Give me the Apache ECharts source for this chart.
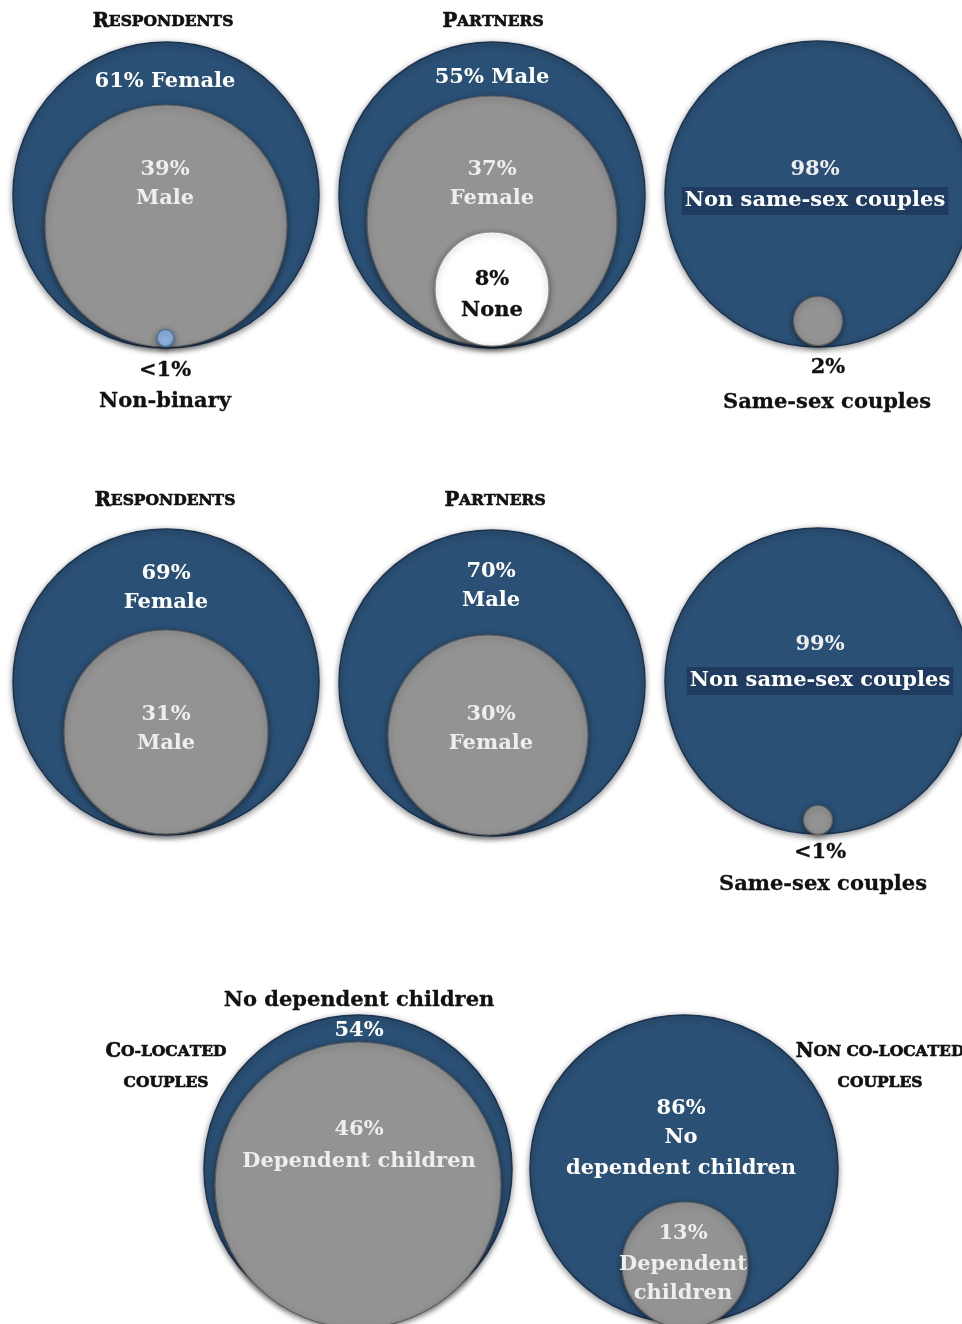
<!DOCTYPE html>
<html><head><meta charset="utf-8">
<script src="https://cdn.jsdelivr.net/npm/echarts@6/dist/echarts.min.js"></script>
<style>html,body{margin:0;padding:0;background:#fff}#c{width:962px;height:1324px}</style>
</head><body><div id="c"></div>
<script>
// ---- data ----
const panelTitles = ['Respondents', 'Partners', 'Respondents', 'Partners'];
const row1RespLabels = ['Female', 'Male', 'Non-binary'];
const row1RespValues = ['61%', '39%', '<1%'];
const row1PartLabels = ['Male', 'Female', 'None'];
const row1PartValues = ['55%', '37%', '8%'];
const row1CoupleLabels = ['Non same-sex couples', 'Same-sex couples'];
const row1CoupleValues = ['98%', '2%'];
const row2RespLabels = ['Female', 'Male'];
const row2RespValues = ['69%', '31%'];
const row2PartLabels = ['Male', 'Female'];
const row2PartValues = ['70%', '30%'];
const row2CoupleLabels = ['Non same-sex couples', 'Same-sex couples'];
const row2CoupleValues = ['99%', '<1%'];
const groupTitles = ['Co-located', 'couples', 'Non co-located', 'couples'];
const coLocLabels = ['No dependent children', 'Dependent children'];
const coLocValues = ['54%', '46%'];
const nonCoLabels = ['No', 'dependent children', 'Dependent', 'children'];
const nonCoValues = ['86%', '13%'];

// ---- layout (positions in axis units; kind -> style) ----
// [cx, cy, r, kind]  kind: 0 blue, 1 grey, 2 light blue, 3 white
const circles = [
  [166, 195, 153, 0], [166, 226, 121, 1], [165.5, 338, 8.5, 2],
  [492, 195, 153, 0], [492, 221, 125, 1], [492, 289, 57, 3],
  [818, 194, 153, 0], [818, 321, 24.5, 1],
  [166, 682, 153, 0], [166, 732, 102, 1],
  [492, 683, 153, 0], [488, 735, 100, 1],
  [818, 681, 153, 0], [818, 820, 14.5, 1],
  [358, 1169, 154, 0], [358, 1185, 143, 1],
  [684, 1169, 154, 0], [685, 1265, 63, 1]
];
const circleStyles = [
  { fill: '#2b5075', stroke: '#1b3350', lineWidth: 1.5 },
  { fill: '#939393', stroke: '#5e5e5e', lineWidth: 1.2 },
  { fill: '#8fb3df', stroke: '#4d74a6', lineWidth: 1.5 },
  { fill: '#ffffff', stroke: '#8a8a8a', lineWidth: 1.2 }
];

function sc(phrase) { // small caps rich text: original capitals large, lowercase as small capitals
  let out = '';
  for (const ch of phrase) {
    if (ch >= 'A' && ch <= 'Z') out += '{a|' + ch + '}';
    else out += '{b|' + ch.toUpperCase() + '}';
  }
  return out;
}
// [x, y, text, kind]  kind: 'w' white, 'g' light on grey, 'k' black, 'box' white w/ box, 'sc' small caps
const texts = [
  [163, 20, sc(panelTitles[0]), 'sc'],
  [165, 80, row1RespValues[0] + ' ' + row1RespLabels[0], 'w'],
  [165, 168, row1RespValues[1], 'g'], [165, 197, row1RespLabels[1], 'g'],
  [165, 369, row1RespValues[2], 'k'], [165, 400, row1RespLabels[2], 'k'],
  [493, 20, sc(panelTitles[1]), 'sc'],
  [492, 76, row1PartValues[0] + ' ' + row1PartLabels[0], 'w'],
  [492, 168, row1PartValues[1], 'g'], [492, 197, row1PartLabels[1], 'g'],
  [492, 278, row1PartValues[2], 'k'], [492, 309, row1PartLabels[2], 'k'],
  [815, 168, row1CoupleValues[0], 'g'], [815, 199, row1CoupleLabels[0], 'box'],
  [828, 366, row1CoupleValues[1], 'k'], [827, 401, row1CoupleLabels[1], 'k'],

  [165, 499, sc(panelTitles[2]), 'sc'],
  [166, 572, row2RespValues[0], 'w'], [166, 601, row2RespLabels[0], 'w'],
  [166, 713, row2RespValues[1], 'g'], [166, 742, row2RespLabels[1], 'g'],
  [495, 499, sc(panelTitles[3]), 'sc'],
  [491, 570, row2PartValues[0], 'w'], [491, 599, row2PartLabels[0], 'w'],
  [491, 713, row2PartValues[1], 'g'], [491, 742, row2PartLabels[1], 'g'],
  [820, 643, row2CoupleValues[0], 'g'], [820, 679, row2CoupleLabels[0], 'box'],
  [820, 851, row2CoupleValues[1], 'k'], [823, 883, row2CoupleLabels[1], 'k'],

  [359, 999, coLocLabels[0], 'k'], [359, 1029, coLocValues[0], 'w'],
  [166, 1050, sc(groupTitles[0]), 'sc'], [166, 1081, sc(groupTitles[1]), 'sc'],
  [359, 1128, coLocValues[1], 'g'], [359, 1160, coLocLabels[1], 'g'],
  [880, 1050, sc(groupTitles[2]), 'sc'], [880, 1081, sc(groupTitles[3]), 'sc'],
  [681, 1107, nonCoValues[0], 'w'], [681, 1136, nonCoLabels[0], 'w'], [681, 1167, nonCoLabels[1], 'w'],
  [683, 1232, nonCoValues[1], 'g'], [683, 1263, nonCoLabels[2], 'g'], [683, 1292, nonCoLabels[3], 'g']
];

const FONT = '"DejaVu Serif", "Liberation Serif", serif';
const chart = echarts.init(document.getElementById('c'), null, { renderer: 'canvas' });
chart.setOption({
  animation: false,
  grid: { left: 0, right: 0, top: 0, bottom: 0 },
  xAxis: { type: 'value', min: 0, max: 962, show: false },
  yAxis: { type: 'value', min: 0, max: 1324, inverse: true, show: false },
  series: [
    {
      type: 'custom', coordinateSystem: 'cartesian2d', clip: true,
      data: circles,
      renderItem: function (params, api) {
        const c = api.coord([api.value(0), api.value(1)]);
        const s = api.size([api.value(2), api.value(2)]);
        const st = circleStyles[api.value(3)];
        return {
          type: 'circle',
          shape: { cx: c[0], cy: c[1], r: Math.abs(s[0]) },
          style: {
            fill: st.fill, stroke: st.stroke, lineWidth: st.lineWidth,
            shadowBlur: 6, shadowColor: 'rgba(0,0,0,0.45)', shadowOffsetX: 0, shadowOffsetY: 2
          }
        };
      }
    },
    {
      type: 'custom', coordinateSystem: 'cartesian2d', clip: false,
      data: texts.map((t, i) => [t[0], t[1], i]),
      renderItem: function (params, api) {
        const c = api.coord([api.value(0), api.value(1)]);
        const t = texts[api.value(2)];
        const kind = t[3];
        const style = {
          text: t[2], x: c[0], y: c[1] + 2, align: 'center', verticalAlign: 'middle',
          fontFamily: FONT, fontWeight: 'bold', fontSize: 21
        };
        if (kind === 'w') style.fill = '#ffffff';
        else if (kind === 'g') style.fill = '#eeeeee';
        else if (kind === 'k') { style.fill = '#111111'; style.stroke = '#111111'; style.lineWidth = 0.3; }
        else if (kind === 'box') {
          style.fill = '#ffffff'; style.backgroundColor = '#203b60'; style.padding = [4, 3, 3, 3];
        } else if (kind === 'sc') {
          style.fill = '#111111';
          style.rich = {
            a: { fontFamily: FONT, fontWeight: 'bold', fontSize: 19.5, fill: '#111', stroke: '#111', lineWidth: 0.7 },
            b: { fontFamily: FONT, fontWeight: 'bold', fontSize: 15.5, fill: '#111', stroke: '#111', lineWidth: 0.7 }
          };
        }
        return { type: 'text', style: style };
      }
    }
  ]
});
</script></body></html>
